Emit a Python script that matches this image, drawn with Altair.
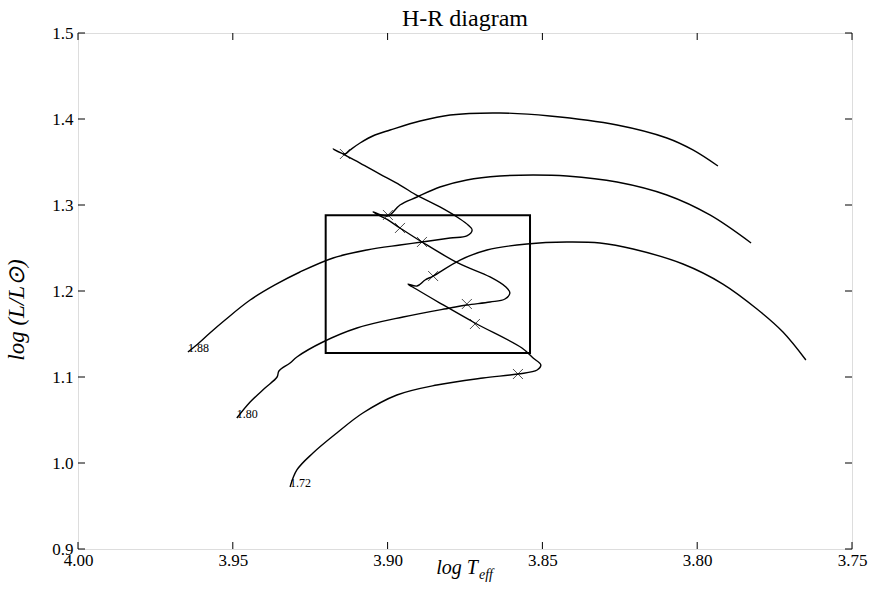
import altair as alt
import pandas as pd

# ---- data ----
masses = ["1.88", "1.80", "1.72"]

t188_logT = [3.9645, 3.9617, 3.9574, 3.9525, 3.9444, 3.9364, 3.9283, 3.9176, 3.9067, 3.8960,
             3.8889, 3.8798, 3.8744, 3.8727, 3.8740, 3.8766, 3.8831, 3.8902, 3.8960, 3.9025,
             3.9089, 3.9138, 3.9176, 3.9138, 3.9121, 3.9089, 3.9041, 3.8992, 3.8895, 3.8798,
             3.8637, 3.8476, 3.8259, 3.8098, 3.8014, 3.7933]
t188_logL = [1.1291, 1.1372, 1.1512, 1.1663, 1.1895, 1.2070, 1.2221, 1.2384, 1.2477, 1.2535,
             1.2570, 1.2616, 1.2640, 1.2709, 1.2767, 1.2837, 1.2977, 1.3105, 1.3232, 1.3360,
             1.3488, 1.3581, 1.3651, 1.3593, 1.3640, 1.3721, 1.3814, 1.3872, 1.3977, 1.4047,
             1.4070, 1.4035, 1.3930, 1.3779, 1.3640, 1.3453]

t180_logT = [3.9487, 3.9444, 3.9396, 3.9357, 3.9351, 3.9315, 3.9293, 3.9209, 3.9099, 3.8950,
             3.8798, 3.8744, 3.8669, 3.8621, 3.8605, 3.8618, 3.8669, 3.8773, 3.8889, 3.8960,
             3.8999, 3.9047, 3.8999, 3.8960, 3.8905, 3.8831, 3.8744, 3.8637, 3.8530, 3.8421,
             3.8259, 3.8098, 3.7959, 3.7826]
t180_logL = [1.0523, 1.0709, 1.0872, 1.1000, 1.1070, 1.1163, 1.1233, 1.1407, 1.1570, 1.1698,
             1.1802, 1.1837, 1.1872, 1.1907, 1.1977, 1.2046, 1.2163, 1.2326, 1.2570, 1.2733,
             1.2826, 1.2919, 1.2872, 1.3000, 1.3093, 1.3209, 1.3291, 1.3337, 1.3349, 1.3337,
             1.3267, 1.3116, 1.2884, 1.2558]

t172_logT = [3.9315, 3.9293, 3.9241, 3.9164, 3.9080, 3.8970, 3.8841, 3.8692, 3.8579, 3.8517,
             3.8505, 3.8530, 3.8566, 3.8718, 3.8831, 3.8908, 3.8934, 3.8905, 3.8879, 3.8853,
             3.8766, 3.8679, 3.8550, 3.8421, 3.8314, 3.8207, 3.8046, 3.7917, 3.7807, 3.7723,
             3.7649]
t172_logL = [0.9721, 0.9919, 1.0116, 1.0349, 1.0581, 1.0791, 1.0907, 1.0988, 1.1035, 1.1081,
             1.1140, 1.1221, 1.1337, 1.1628, 1.1860, 1.2023, 1.2081, 1.2058, 1.2128, 1.2174,
             1.2360, 1.2477, 1.2547, 1.2570, 1.2558, 1.2488, 1.2314, 1.2081, 1.1791, 1.1523,
             1.1198]

cross_logT = [3.9138, 3.8999, 3.8960, 3.8889, 3.8853, 3.8744, 3.8718, 3.8579]
cross_logL = [1.3593, 1.2884, 1.2733, 1.2570, 1.2174, 1.1849, 1.1616, 1.1035]

box_logT = [3.920, 3.854]
box_logL = [1.128, 1.288]

x_ticks = [4.00, 3.95, 3.90, 3.85, 3.80, 3.75]
y_ticks = [0.9, 1.0, 1.1, 1.2, 1.3, 1.4, 1.5]

chart_title = "H-R diagram"
x_title_main, x_title_sub = "log T", "eff"
y_title = "log (L/L⊙)"

# ---- tables ----
rows = []
for m, T, L in zip(masses, [t188_logT, t180_logT, t172_logT], [t188_logL, t180_logL, t172_logL]):
    for i, (t, l) in enumerate(zip(T, L)):
        rows.append({"mass": m, "i": i, "logT": t, "logL": l})
tracks = pd.DataFrame(rows)
labels = pd.DataFrame({"mass": masses,
                       "logT": [t188_logT[0], t180_logT[0], t172_logT[0]],
                       "logL": [t188_logL[0], t180_logL[0], t172_logL[0]]})
crosses = pd.DataFrame({"logT": cross_logT, "logL": cross_logL})
box = pd.DataFrame({"t1": [box_logT[0]], "t2": [box_logT[1]], "l1": [box_logL[0]], "l2": [box_logL[1]]})
xt = pd.DataFrame({"v": x_ticks})
yt = pd.DataFrame({"v": y_ticks})
texts = pd.DataFrame({"t": [chart_title], "a": [x_title_main], "b": [x_title_sub], "c": [y_title]})

W, H = 774, 516
SERIF = "Times New Roman"

xscale = alt.Scale(domain=[3.75, 4.0], reverse=True, nice=False, zero=False)
yscale = alt.Scale(domain=[0.9, 1.5], nice=False, zero=False)
xaxis = alt.Axis(values=x_ticks, format=".2f", title=None, ticks=False, domain=False, grid=False,
                 labelFont=SERIF, labelFontSize=17, labelColor="black", labelPadding=3,
                 labelFlush=False, labelOverlap=False)
yaxis = alt.Axis(values=y_ticks, format=".1f", title=None, ticks=False, domain=False, grid=False,
                 labelFont=SERIF, labelFontSize=17, labelColor="black", labelPadding=5,
                 labelFlush=False, labelOverlap=False)

X = lambda f: alt.X(f, type="quantitative", scale=xscale, axis=xaxis)
Y = lambda f: alt.Y(f, type="quantitative", scale=yscale, axis=yaxis)

lines = alt.Chart(tracks).mark_line(color="black", strokeWidth=1.4, strokeJoin="round",
                                    interpolate="catmull-rom").encode(
    x=X("logT"), y=Y("logL"), detail="mass:N", order="i:Q")

pts = alt.Chart(crosses).mark_point(shape="M-1,-1L1,1M-1,1L1,-1", size=100, filled=False,
                                    color="black", strokeWidth=1).encode(x=X("logT"), y=Y("logL"))

rect = alt.Chart(box).mark_rect(fill=None, fillOpacity=0, stroke="black", strokeWidth=2).encode(
    x=X("t1"), x2="t2", y=Y("l1"), y2="l2")

lbl = alt.Chart(labels).mark_text(align="left", baseline="alphabetic", font=SERIF, fontSize=12,
                                  color="black").encode(x=X("logT"), y=Y("logL"), text="mass:N")

xt_bot = alt.Chart(xt).mark_rule(color="black", strokeWidth=1).encode(
    x=X("v"), y=alt.value(H), y2=alt.value(H - 7))
xt_top = alt.Chart(xt).mark_rule(color="black", strokeWidth=1).encode(
    x=X("v"), y=alt.value(0), y2=alt.value(7))
yt_left = alt.Chart(yt).mark_rule(color="black", strokeWidth=1).encode(
    y=Y("v"), x=alt.value(0), x2=alt.value(7))
yt_right = alt.Chart(yt).mark_rule(color="black", strokeWidth=1).encode(
    y=Y("v"), x=alt.value(W), x2=alt.value(W - 7))

title_t = alt.Chart(texts).mark_text(align="center", baseline="alphabetic", font=SERIF,
                                     fontSize=24, color="black").encode(
    text="t:N", x=alt.value(W / 2), y=alt.value(-7))
xtitle1 = alt.Chart(texts).mark_text(align="right", baseline="alphabetic", font=SERIF,
                                     fontStyle="italic", fontSize=20, color="black").encode(
    text="a:N", x=alt.value(400), y=alt.value(541))
xtitle2 = alt.Chart(texts).mark_text(align="left", baseline="alphabetic", font=SERIF,
                                     fontStyle="italic", fontSize=14, color="black").encode(
    text="b:N", x=alt.value(401), y=alt.value(546))
ytitle = alt.Chart(texts).mark_text(align="center", baseline="middle", font=SERIF,
                                    fontStyle="italic", fontSize=23, angle=270, color="black").encode(
    text="c:N", x=alt.value(-61), y=alt.value(277))

chart = alt.layer(lines, rect, pts, lbl, xt_bot, xt_top, yt_left, yt_right,
                  title_t, xtitle1, xtitle2, ytitle).properties(
    width=W, height=H,
    autosize=alt.AutoSizeParams(type="none"),
    padding={"left": 78, "top": 33, "right": 21, "bottom": 46},
).configure_view(stroke="black", strokeWidth=1.5).configure(background="white")

chart.save("out.html", embed_options={"renderer": "svg", "actions": False})
